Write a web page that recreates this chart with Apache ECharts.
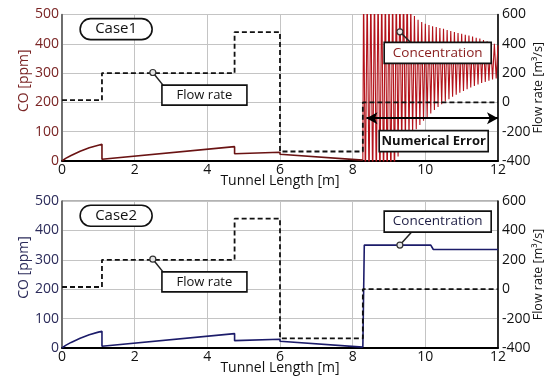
<!DOCTYPE html>
<html><head><meta charset="utf-8">
<script src="https://cdn.jsdelivr.net/npm/echarts@6/dist/echarts.min.js"></script>
<style>html,body{margin:0;padding:0;background:#fff}#c{width:550px;height:379px}</style>
</head><body><div id="c"></div>
<script>
const FONT = '"Open Sans", sans-serif';
const caseNames = ['Case1', 'Case2'];
const xTitle = 'Tunnel Length [m]';
const leftTitle = 'CO [ppm]';
const rightTitle = 'Flow rate [m³/s]';

// CO concentration, shared part of both cases (x [m], CO [ppm])
const concX = [0, 0.1, 0.25, 0.5, 0.75, 1.0, 1.1, 1.1, 4.75, 4.75, 6.0, 6.0, 8.28];
const concY = [0, 9, 19, 33, 45, 54, 57, 6, 49, 25, 30, 23, 3];

// Case1: oscillating numerical error after 8.28 m
const errX = [8.28,
  8.30, 8.35, 8.40, 8.45, 8.50, 8.55, 8.60, 8.65, 8.70, 8.75,
  8.80, 8.85, 8.90, 8.95, 9.00, 9.05, 9.10, 9.15, 9.20, 9.25,
  9.30, 9.35, 9.40, 9.45, 9.50, 9.55, 9.60, 9.65, 9.70, 9.75,
  9.80, 9.85, 9.90, 9.95, 10.00, 10.05, 10.10, 10.15, 10.20, 10.25,
  10.30, 10.35, 10.40, 10.45, 10.50, 10.55, 10.60, 10.65, 10.70, 10.75,
  10.80, 10.85, 10.90, 10.95, 11.00, 11.05, 11.10, 11.15, 11.20, 11.25,
  11.30, 11.35, 11.40, 11.45, 11.50, 11.55, 11.60, 11.65, 11.70, 11.75,
  11.80, 11.85, 11.90, 11.95, 12.00];
const errY = [3,
  600, -100, 600, -100, 600, -100, 600, -100, 600, -100,
  600, -100, 600, -100, 600, -100, 600, -100, 600, 15,
  600, 35, 600, 55, 600, 75, 530, 92, 495, 108,
  482, 123, 474, 137, 468, 150, 464, 162, 460, 174,
  457, 184, 454, 194, 451, 203, 447, 211, 444, 219,
  440, 226, 437, 233, 434, 239, 431, 245, 428, 251,
  425, 256, 421, 261, 418, 266, 413, 270, 409, 274,
  404, 278, 400, 282, 395];

// Case2: stable concentration after 8.28 m
const tail2X = [8.28, 8.32, 10.15, 10.22, 12];
const tail2Y = [3, 350, 350, 335, 335];

// Flow rate [m3/s]
const flowX = [0, 1.1, 1.1, 4.75, 4.75, 6.0, 6.0, 8.28, 8.28, 12];
const flowY = [15, 15, 200, 200, 480, 480, -335, -335, 0, 0];

// annotation anchors (x [m], CO [ppm])
const caseBoxAt = [1.49, 450];
const flowBoxAt = [3.92, 225];
const flowDotAt = [2.5, 302];
const flowLeadEnd = [2.78, 259];
const concBoxAt = [[10.34, 369], [10.34, 430]];
const concDotAt = [[9.3, 441], [9.3, 350]];
const concLeadEnd = [[9.58, 406], [9.63, 395]];
const errBoxAt = [10.23, 68];
const errArrow = [[8.38, 146], [12, 146]];

const leftColors = ['#7a2424', '#2b2b5a'];
const lineColors = ['#6a1313', '#1c1c6a'];
const errColor = '#b3121a';

const pairs = (xs, ys) => xs.map((x, i) => [x, ys[i]]);

const chart = echarts.init(document.getElementById('c'), null, {renderer: 'canvas'});

const grids = [
  {left: 62, right: 52, top: 14.5, height: 146.5},
  {left: 62, right: 52, top: 201, height: 147}
];

const xAxes = [], yAxes = [], series = [];
grids.forEach((g, i) => {
  xAxes.push({
    type: 'value', gridIndex: i, min: 0, max: 12, interval: 2,
    name: xTitle, nameLocation: 'middle', nameGap: 13, nameMoveOverlap: false,
    nameTextStyle: {fontFamily: FONT, fontSize: 14, color: '#111'},
    axisLine: {show: true, lineStyle: {color: '#000', width: 2}},
    axisTick: {show: false},
    axisLabel: {fontFamily: FONT, fontSize: 14, color: '#111', margin: 2},
    splitLine: {show: true, lineStyle: {color: '#c4c4c4', width: 1}}
  });
  yAxes.push({
    type: 'value', gridIndex: i, position: 'left', min: 0, max: 500, interval: 100,
    name: leftTitle, nameLocation: 'middle', nameGap: 31, nameRotate: 90, nameMoveOverlap: false,
    nameTextStyle: {fontFamily: FONT, fontSize: 14, color: leftColors[i], padding: [0, 0, 0, 14]},
    axisLine: {show: true, lineStyle: {color: '#555', width: 1.5}},
    axisTick: {show: false},
    axisLabel: {fontFamily: FONT, fontSize: 14, color: leftColors[i], margin: 3},
    splitLine: {show: true, lineStyle: {color: '#c4c4c4', width: 1}}
  });
  yAxes.push({
    type: 'value', gridIndex: i, position: 'right', min: -400, max: 600, interval: 200,
    name: rightTitle, nameLocation: 'middle', nameGap: 34, nameRotate: 90, nameMoveOverlap: false,
    nameTextStyle: {fontFamily: FONT, fontSize: 12.5, color: '#111'},
    axisLine: {show: true, lineStyle: {color: '#000', width: 1.5}},
    axisTick: {show: false},
    axisLabel: {fontFamily: FONT, fontSize: 14, color: '#111', margin: 4},
    splitLine: {show: false}
  });
});

grids.forEach((g, i) => {
  series.push({
    type: 'line', xAxisIndex: i, yAxisIndex: i * 2, data: pairs(concX, concY),
    symbol: 'none', clip: true, z: 3,
    lineStyle: {color: lineColors[i], width: 1.6}
  });
});
series.push({
  type: 'line', xAxisIndex: 0, yAxisIndex: 0, data: pairs(errX, errY),
  symbol: 'none', clip: true, z: 3,
  lineStyle: {color: errColor, width: 1.1},
  markLine: {
    silent: true, symbol: ['arrow', 'arrow'], symbolSize: [9, 11],
    label: {show: false}, z: 20,
    lineStyle: {color: '#000', width: 2.2, type: 'solid'},
    data: [[{coord: errArrow[0]}, {coord: errArrow[1]}]]
  }
});
series.push({
  type: 'line', xAxisIndex: 1, yAxisIndex: 2, data: pairs(tail2X, tail2Y),
  symbol: 'none', clip: true, z: 3,
  lineStyle: {color: lineColors[1], width: 1.6}
});
grids.forEach((g, i) => {
  series.push({
    type: 'line', xAxisIndex: i, yAxisIndex: i * 2 + 1, data: pairs(flowX, flowY),
    symbol: 'none', clip: true, z: 5,
    lineStyle: {color: '#111', width: 1.8, type: [5, 3]}
  });
});

chart.setOption({
  backgroundColor: '#fff',
  animation: false,
  grid: grids.map(g => Object.assign({show: true, borderColor: '#666', borderWidth: 1, backgroundColor: 'transparent', outerBoundsMode: 'none'}, g)),
  xAxis: xAxes, yAxis: yAxes, series: series
});

function px(i, p) { return chart.convertToPixel({xAxisIndex: i, yAxisIndex: i * 2}, p); }
function box(c, w, h, r, text, font, color) {
  return [
    {type: 'rect', z: 100, shape: {x: c[0] - w / 2, y: c[1] - h / 2, width: w, height: h, r: r},
      style: {fill: '#fff', stroke: '#111', lineWidth: 1.6}},
    {type: 'text', z: 101, x: c[0], y: c[1],
      style: {text: text, font: font, fill: color, textAlign: 'center', textVerticalAlign: 'middle'}}
  ];
}
function leader(a, b) {
  return [
    {type: 'line', z: 99, shape: {x1: a[0], y1: a[1], x2: b[0], y2: b[1]}, style: {stroke: '#222', lineWidth: 1.5}},
    {type: 'circle', z: 102, shape: {cx: a[0], cy: a[1], r: 3}, style: {fill: '#e6e6e6', stroke: '#333', lineWidth: 1.2}}
  ];
}
const concTextColors = ['#8a2020', '#1f1f45'];
let g = [];
[0, 1].forEach(i => {
  g = g.concat(box(px(i, caseBoxAt), 72, 21, 10.5, caseNames[i], '15px ' + FONT, '#111'));
  g = g.concat(leader(px(i, flowDotAt), px(i, flowLeadEnd)));
  g = g.concat(box(px(i, flowBoxAt), 85, 20, 0, 'Flow rate', '13px ' + FONT, '#111'));
  g = g.concat(leader(px(i, concDotAt[i]), px(i, concLeadEnd[i])));
  g = g.concat(box(px(i, concBoxAt[i]), 107, 21, 0, 'Concentration', '13.5px ' + FONT, concTextColors[i]));
});
g = g.concat(box(px(0, errBoxAt), 109, 21, 0, 'Numerical Error', 'bold 13px ' + FONT, '#111'));
chart.setOption({graphic: g});
</script></body></html>
